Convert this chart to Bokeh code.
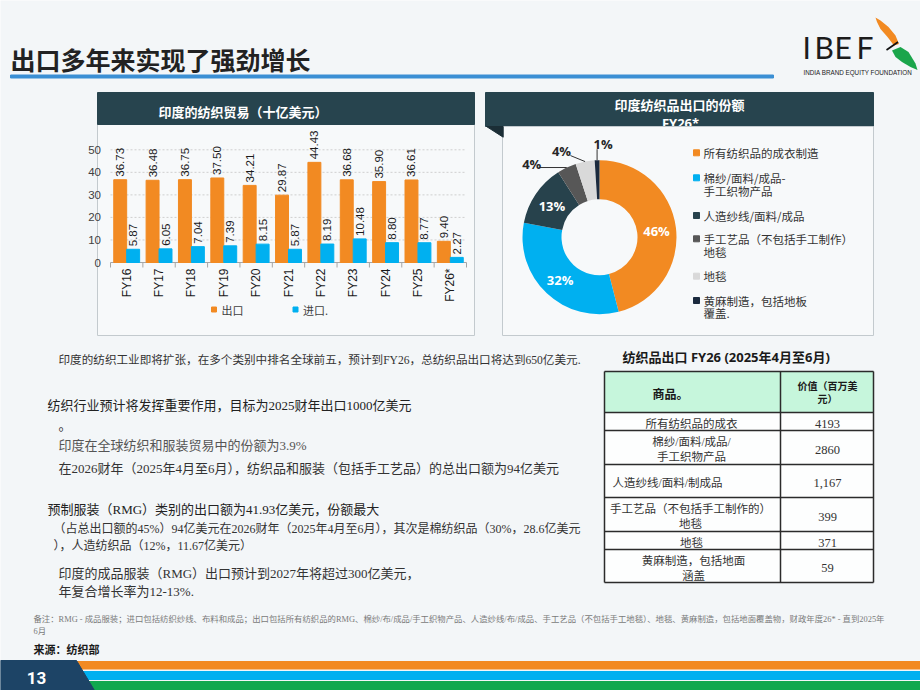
import numpy as np
from math import pi
from bokeh.plotting import figure
from bokeh.models import Range1d
from bokeh.core.properties import value
from bokeh.embed import file_html
from bokeh.resources import INLINE

# ---------------- data ----------------
fiscal_years = ["FY16", "FY17", "FY18", "FY19", "FY20", "FY21", "FY22",
                "FY23", "FY24", "FY25", "FY26*"]
exports = [36.73, 36.48, 36.75, 37.50, 34.21, 29.87, 44.43, 36.68, 35.90, 36.61, 9.40]
imports = [5.87, 6.05, 7.04, 7.39, 8.15, 5.87, 8.19, 10.48, 8.80, 8.77, 2.27]
y_ticks = [0, 10, 20, 30, 40, 50]
trade_series = ["出口", "进口."]

share_names = [["所有纺织品的成衣制造"],
               ["棉纱/面料/成品-", "手工织物产品"],
               ["人造纱线/面料/成品"],
               ["手工艺品（不包括手工制作）", "地毯"],
               ["地毯"],
               ["黄麻制造，包括地板", "覆盖."]]
share_pct = [46, 32, 13, 4, 4, 1]

table_items = [["所有纺织品的成衣"],
               ["棉纱/面料/成品/", "手工织物产品"],
               ["人造纱线/面料/制成品"],
               ["手工艺品（不包括手工制作的）", "地毯"],
               ["地毯"],
               ["黄麻制造，包括地面", "涵盖"]]
table_values = ["4193", "2860", "1,167", "399", "371", "59"]

# ---------------- style ----------------
W, H = 920, 690
BG = "#f3f6f8"
PANEL = "#f7f9fa"
HEADER = "#27444e"
EDGE = "#c3cace"
ORANGE = "#f28a22"
CYAN = "#00b0f0"
SERIES_COLORS = [ORANGE, CYAN]
SLICE_COLORS = [ORANGE, CYAN, "#27424c", "#575757", "#d9d9d9", "#1b2a3e"]
CJK = "Noto Sans CJK SC"
MIX = "Liberation Serif, Noto Sans CJK SC"
SANS = "Liberation Sans, Noto Sans CJK SC"
OPEN = "Open Sans, Noto Sans CJK SC"

# The slide is one canvas measured in pixels (y grows downward).
p = figure(width=W, height=H, x_range=Range1d(0, W), y_range=Range1d(H, 0),
           x_axis_type=None, y_axis_type=None, title=None,
           toolbar_location=None, output_backend="svg", min_border=0,
           background_fill_color=BG, border_fill_color=BG,
           outline_line_color=None)


def put(x, y, s, size, color="#333333", font=CJK, style="normal",
        align="left", baseline="middle", **kw):
    p.text(x=[x], y=[y], text=[s], text_font=value(font),
           text_font_size=f"{size}px", text_color=color,
           text_font_style=style, text_align=align, text_baseline=baseline, **kw)


# ================= title and logo =================
put(10, 58, "出口多年来实现了强劲增长", 25, "#222222", CJK, "bold")
p.quad(left=[10], right=[773], top=[74.5], bottom=[77.5], color="#3b8fd4")

for letter, lx in zip("IBEF", [802, 814, 834, 856]):
    put(lx, 46, letter, 30, "#1c1c1c", "Lato")
put(803, 72, "INDIA BRAND EQUITY FOUNDATION", 6.3, "#222222", "Liberation Sans")
p.patch(x=[875, 880, 888, 895, 898.5, 893.5, 887, 880, 876.5],
        y=[17, 20, 26.5, 35, 43.5, 45, 36.5, 28.5, 21.5], color="#f28a22", line_color=None)
p.patch(x=[891.5, 900, 908, 915, 917, 910, 901.5, 895],
        y=[50, 46.5, 51.5, 63, 69.5, 66.5, 61.5, 56.5], color="#1aa54b", line_color=None)
p.line(x=[886, 897.5], y=[49.5, 41.5], line_color="#111111", line_width=1.6)

# ================= trade panel (bar chart) =================
p.quad(left=[97], right=[474], top=[124], bottom=[335], fill_color=PANEL, line_color=EDGE)
p.quad(left=[97], right=[474], top=[92], bottom=[124], color=HEADER)
put(158, 111, "印度的纺织贸易（十亿美元）", 13, "#ffffff", CJK, "bold")

# plot area of the bar chart: categories span x 110..466, value 0 sits at y 262
n = len(fiscal_years)
idx = np.arange(n)
BAR_LEFT, BAR_RIGHT, BASE_Y, PX_PER_UNIT = 110, 466, 262, 2.254
step = (BAR_RIGHT - BAR_LEFT) / n
p.extra_x_ranges = {"cat": Range1d(-0.5 - BAR_LEFT / step, -0.5 + (W - BAR_LEFT) / step)}
p.extra_y_ranges = {"val": Range1d((BASE_Y - H) / PX_PER_UNIT, BASE_Y / PX_PER_UNIT)}
on_chart = dict(x_range_name="cat", y_range_name="val")

# dotted grid lines and the category axis
p.segment(x0=[-0.5] * (len(y_ticks) - 1), x1=[n - 0.5] * (len(y_ticks) - 1),
          y0=y_ticks[1:], y1=y_ticks[1:], line_color="#cfcfcf", line_dash="2 2",
          line_width=1, **on_chart)
p.segment(x0=[-0.5], x1=[n - 0.5], y0=[0], y1=[0], line_color="#a6a6a6",
          line_width=1, **on_chart)
edges = idx.tolist() + [n]
p.segment(x0=[e - 0.5 for e in edges], x1=[e - 0.5 for e in edges],
          y0=[0] * len(edges), y1=[-5 / PX_PER_UNIT] * len(edges),
          line_color="#a6a6a6", line_width=1, **on_chart)

# value-axis labels (x in pixels, y in values)
p.text(x=[100.5] * len(y_ticks), y=y_ticks, text=[str(t) for t in y_ticks],
       y_range_name="val", text_align="right", text_baseline="middle",
       text_font=value(SANS), text_font_size="11.5px", text_color="#404040")
# category labels (x in categories, y in pixels)
p.text(x=idx, y=[BASE_Y + 6] * n, text=fiscal_years, x_range_name="cat",
       angle=pi / 2, text_align="right", text_baseline="middle",
       text_font=value(SANS), text_font_size="12px", text_color="#1a1a1a")

for off, vals, col in ((-0.2, exports, ORANGE), (0.2, imports, CYAN)):
    p.vbar(x=idx + off, top=vals, bottom=0, width=0.4, color=col, **on_chart)
    p.text(x=idx + off, y=vals, text=[f"{v:.2f}" for v in vals], angle=pi / 2,
           text_align="left", text_baseline="middle", y_offset=-3,
           text_font=value(SANS), text_font_size="11.5px", text_color="#1a1a1a",
           **on_chart)

# legend of the bar chart
for k, (name, col) in enumerate(zip(trade_series, SERIES_COLORS)):
    lx = 211 + 81.5 * k
    p.quad(left=[lx], right=[lx + 5], top=[306.5], bottom=[311.5], color=col)
    put(lx + 10, 309, name, 11, "#404040", CJK)

# ================= share panel (donut) =================
p.quad(left=[485], right=[873], top=[92], bottom=[126], color=HEADER)
put(679, 104, "印度纺织品出口的份额", 13, "#ffffff", OPEN, "bold", "center")
put(680, 122, "FY26*", 13, "#ffffff", OPEN, "bold", "center")
p.quad(left=[502], right=[873], top=[126], bottom=[335], fill_color=PANEL, line_color=EDGE)
p.patch(x=[486, 502.7, 502.7], y=[126, 126, 136.7], color="#1b2e36")

cx, cy, r_in, r_out = 599, 236.7, 38, 77
frac = np.array(share_pct, dtype=float) / sum(share_pct)
cum = np.concatenate([[0.0], np.cumsum(frac)])
start = pi / 2 - 2 * pi * cum[:-1]
end = pi / 2 - 2 * pi * cum[1:]
p.annular_wedge(x=cx, y=cy, inner_radius=r_in, outer_radius=r_out,
                start_angle=start, end_angle=end, direction="clock",
                fill_color=SLICE_COLORS, line_color=None)

mid = pi / 2 - 2 * pi * (cum[:-1] + cum[1:]) / 2
pct_text = [f"{v}%" for v in share_pct]
r_mid = (r_in + r_out) / 2
# large slices: labels inside the ring
for i in range(3):
    put(float(cx + r_mid * np.cos(mid[i])), float(cy - r_mid * np.sin(mid[i]) + 1),
        pct_text[i], 13, "#ffffff", OPEN, "bold", "center")
# small slices: labels outside with leader lines
lead = [(-28, 0, -7, -4), (-14.6, -6, -9, -4.5), (0, -11, 6, -5)]
for i, (ldx, ldy, tdx, tdy) in zip(range(3, 6), lead):
    ox, oy = float(cx + r_out * np.cos(mid[i])), float(cy - r_out * np.sin(mid[i]))
    p.line(x=[ox, ox + ldx], y=[oy, oy + ldy], line_color="#333333", line_width=1)
    put(ox + ldx + tdx, oy + ldy + tdy, pct_text[i], 13, "#262626", OPEN, "bold", "center")

leg_y = [152.3, 177.3, 215, 238.3, 275.7, 300]
for name_lines, col, ly in zip(share_names, SLICE_COLORS, leg_y):
    p.quad(left=[693], right=[699], top=[ly - 3], bottom=[ly + 3], color=col)
    for k, s in enumerate(name_lines):
        put(703, ly + 12.7 * k, s, 11.5, "#333333", CJK)

# ================= notes =================
notes = [
    (58, 360, "印度的纺织工业即将扩张，在多个类别中排名全球前五，预计到FY26，总纺织品出口将达到650亿美元.", 11.6, "#333333"),
    (47, 405, "纺织行业预计将发挥重要作用，目标为2025财年出口1000亿美元", 13, "#222222"),
    (58, 425, "。", 13, "#333333"),
    (58, 445, "印度在全球纺织和服装贸易中的份额为3.9%", 13, "#555555"),
    (58, 468, "在2026财年（2025年4月至6月），纺织品和服装（包括手工艺品）的总出口额为94亿美元", 13, "#333333"),
    (47, 509, "预制服装（RMG）类别的出口额为41.93亿美元，份额最大", 13, "#222222"),
    (53, 528.5, "（占总出口额的45%）94亿美元在2026财年（2025年4月至6月），其次是棉纺织品（30%，28.6亿美元", 12, "#333333"),
    (53, 545, "），人造纺织品（12%，11.67亿美元）", 12, "#333333"),
    (58, 573, "印度的成品服装（RMG）出口预计到2027年将超过300亿美元，", 13, "#333333"),
    (58, 591, "年复合增长率为12-13%.", 13, "#333333"),
]
for x, y, s, size, col in notes:
    put(x, y, s, size, col, MIX)

# ================= table =================
put(622, 356, "纺织品出口 FY26 (2025年4月至6月)", 13, "#1a1a1a", "Noto Sans, Noto Sans CJK SC", "bold")
row_edges = [371, 412, 430, 464, 497, 531, 549, 582]
tx0, tx1, tdiv = 604, 873, 780
p.quad(left=[tx0], right=[tx1], top=[row_edges[0]], bottom=[row_edges[1]], color="#c6f6dc")
p.quad(left=[tx0], right=[tx1], top=[row_edges[1]], bottom=[row_edges[-1]], color="#fdfefe")
p.multi_line(xs=[[tx0, tx1] for _ in row_edges], ys=[[e, e] for e in row_edges],
             line_color="#2b2b2b", line_width=1.5)
p.multi_line(xs=[[tx0, tx0], [tdiv, tdiv], [tx1, tx1]],
             ys=[[row_edges[0], row_edges[-1]]] * 3, line_color="#2b2b2b", line_width=1.5)
put(670, 393, "商品。", 12, "#1a1a1a", CJK, "bold", "center")
put(827, 385, "价值（百万美", 10, "#1a1a1a", CJK, "bold", "center")
put(827, 398, "元）", 10, "#1a1a1a", CJK, "bold", "center")
item_x = [691, 691, 667, 690, 691, 693]
for i, (lines, val) in enumerate(zip(table_items, table_values)):
    yc = (row_edges[i + 1] + row_edges[i + 2]) / 2 + 2
    offs = [0] if len(lines) == 1 else [-7.5, 7.5]
    for s, o in zip(lines, offs):
        put(item_x[i], yc + o, s, 11.5, "#333333", MIX, "normal", "center")
    put(827, yc, val, 12.5, "#333333", MIX, "normal", "center")

# ================= footnote, source, footer =================
put(33, 619, "备注：RMG - 成品服装；进口包括纺织纱线、布料和成品；出口包括所有纺织品的RMG、棉纱/布/成品/手工织物产品、人造纱线/布/成品、手工艺品（不包括手工地毯）、地毯、黄麻制造，包括地面覆盖物，财政年度26* - 直到2025年",
    8.4, "#7a7a7a", MIX)
put(33, 631, "6月", 8.4, "#7a7a7a", MIX)
put(33, 648, "来源：纺织部", 11, "#1a1a1a", CJK, "bold")

p.quad(left=[60], right=[W], top=[661], bottom=[668.5], color="#f28a22")
p.quad(left=[60], right=[W], top=[671], bottom=[679], color="#00b0f0")
p.quad(left=[60], right=[W], top=[681], bottom=[H], color="#10a84e")
p.patch(x=[0, 76, 94, 0], y=[660, 660, H, H], color="#1d4466")
put(36, 677, "13", 17, "#ffffff", "Liberation Sans Narrow, Roboto", "bold", "center")

with open("out.html", "w") as fh:
    fh.write(file_html(p, INLINE))
